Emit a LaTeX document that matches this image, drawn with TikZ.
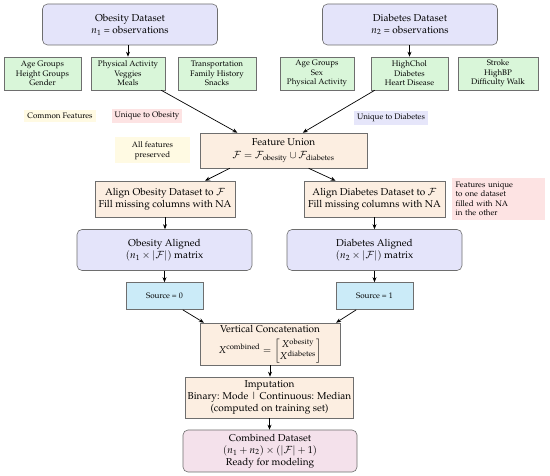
\documentclass[tikz,border=0pt]{standalone}
\usepackage[T1]{fontenc}
\usepackage{mathpazo}
\usepackage{amsmath}
\usetikzlibrary{calc,arrows.meta}
\definecolor{lav}{HTML}{E4E4FA}
\definecolor{grn}{HTML}{D9F6D9}
\definecolor{pch}{HTML}{FCEEE1}
\definecolor{sky}{HTML}{CBEBF8}
\definecolor{pnk}{HTML}{F4E1EB}
\definecolor{lyel}{HTML}{FFFAE3}
\definecolor{lred}{HTML}{FDE3E3}
\definecolor{lblu}{HTML}{E6E6FA}
\definecolor{bord}{HTML}{6E6E6E}
\tikzset{
  base/.style={draw=bord, line width=0.6pt, align=center, inner sep=2pt},
  dset/.style={base, fill=lav, rounded corners=5pt, minimum width=175pt, minimum height=41pt, font=\normalsize},
  feat/.style={base, fill=grn, minimum height=33pt, font=\footnotesize, inner sep=1pt},
  proc/.style={base, fill=pch, font=\normalsize},
  src/.style={base, fill=sky, minimum width=77pt, minimum height=27pt, font=\footnotesize},
  note/.style={align=center, font=\footnotesize, inner sep=3pt},
  arr/.style={-{Stealth[length=5pt,width=4pt]}, line width=0.7pt, black}
}
\begin{document}
\begin{tikzpicture}[x=1pt,y=-1pt]
\useasboundingbox[fill=white] (0,0) rectangle (550,476);
% datasets
\node[dset] (obs) at (130,24.5) {Obesity Dataset\\$n_1$ = observations};
\node[dset] (dia) at (410,24.5) {Diabetes Dataset\\$n_2$ = observations};
% features
\node[feat, minimum width=77pt] (g1) at (42.5,73.5) {Age Groups\\Height Groups\\Gender};
\node[feat, minimum width=74pt] (g2) at (128,73.5) {Physical Activity\\Veggies\\Meals};
\node[feat, minimum width=78pt] (g3) at (217,73.5) {Transportation\\Family History\\Snacks};
\node[feat, minimum width=74pt] (g4) at (317,73.5) {Age Groups\\Sex\\Physical Activity};
\node[feat, minimum width=77pt] (g5) at (409.5,73.5) {HighChol\\Diabetes\\Heart Disease};
\node[feat, minimum width=80pt] (g6) at (498,73.5) {Stroke\\HighBP\\Difficulty Walk};
% legend labels
\node[note, fill=lyel] (lc) at (60,116) {Common Features};
\node[note, fill=lred] (lo) at (147,116) {Unique to Obesity};
\node[note, fill=lblu] (ld) at (391,118) {Unique to Diabetes};
% union
\node[proc, minimum width=167pt, minimum height=35pt] (fu) at (283.5,150.5) {Feature Union\\[1pt]$\mathcal{F}=\mathcal{F}_{\text{obesity}}\cup\mathcal{F}_{\text{diabetes}}$};
\node[note, fill=lyel, minimum width=75pt, minimum height=26pt] (allf) at (152.5,150.5) {All features\\preserved};
% align
\node[proc, minimum width=140pt, minimum height=36pt] (ao) at (165,199) {Align Obesity Dataset to $\mathcal{F}$\\Fill missing columns with NA};
\node[proc, minimum width=141pt, minimum height=36pt] (ad) at (374.5,199) {Align Diabetes Dataset to $\mathcal{F}$\\Fill missing columns with NA};
\node[note, fill=lred, align=left, minimum width=93pt, minimum height=42pt, text width=86pt] (fun) at (498.5,199) {Features unique\\to one dataset\\filled with NA\\in the other};
% aligned
\node[dset] (oa) at (164.5,250) {Obesity Aligned\\$(n_1\times|\mathcal{F}|)$ matrix};
\node[dset] (da) at (374.5,250) {Diabetes Aligned\\$(n_2\times|\mathcal{F}|)$ matrix};
% source
\node[src] (s0) at (164.5,296) {Source = 0};
\node[src] (s1) at (374.5,296) {Source = 1};
% concat
\node[proc, minimum width=140pt, minimum height=42pt, inner sep=1pt] (vc) at (270,344) {Vertical Concatenation\\[5pt]{\renewcommand{\arraystretch}{0.85}$X^{\text{combined}}=\begin{bmatrix}X^{\text{obesity}}\\ X^{\text{diabetes}}\end{bmatrix}$}};
\node[proc, minimum width=167pt, minimum height=41pt] (imp) at (269.5,397.5) {Imputation\\Binary: Mode \textbar{} Continuous: Median\\(computed on training set)};
\node[dset, fill=pnk, minimum width=174pt, minimum height=42pt] (comb) at (270,451) {Combined Dataset\\$(n_1+n_2)\times(|\mathcal{F}|+1)$\\Ready for modeling};
% arrows
\draw[arr] (obs.south -| g2.north) -- (g2.north);
\draw[arr] (dia.south -| g5.north) -- (g5.north);
\draw[arr] ($(g2.south east)+(-4,0)$) -- ($(fu.north)!0.55!(fu.north west)$);
\draw[arr] ($(g5.south west)+(4,0)$) -- ($(fu.north)!0.23!(fu.north east)$);
\draw[arr] ($(fu.south)!0.64!(fu.south west)$) -- ($(ao.north)!0.57!(ao.north east)$);
\draw[arr] ($(fu.south)!0.3!(fu.south east)$) -- ($(ad.north)!0.55!(ad.north west)$);
\draw[arr] (ao.south) -- (ao.south |- oa.north);
\draw[arr] (ad.south) -- (ad.south |- da.north);
\draw[arr] (oa.south -| s0.north) -- (s0.north);
\draw[arr] (da.south -| s1.north) -- (s1.north);
\draw[arr] ($(s0.south)!0.47!(s0.south east)$) -- ($(vc.north west)!0.03!(vc.north east)$);
\draw[arr] ($(s1.south)!0.47!(s1.south west)$) -- ($(vc.north east)!0.03!(vc.north west)$);
\draw[arr] (vc.south) -- (vc.south |- imp.north);
\draw[arr] (imp.south) -- (imp.south |- comb.north);
\end{tikzpicture}
\end{document}
